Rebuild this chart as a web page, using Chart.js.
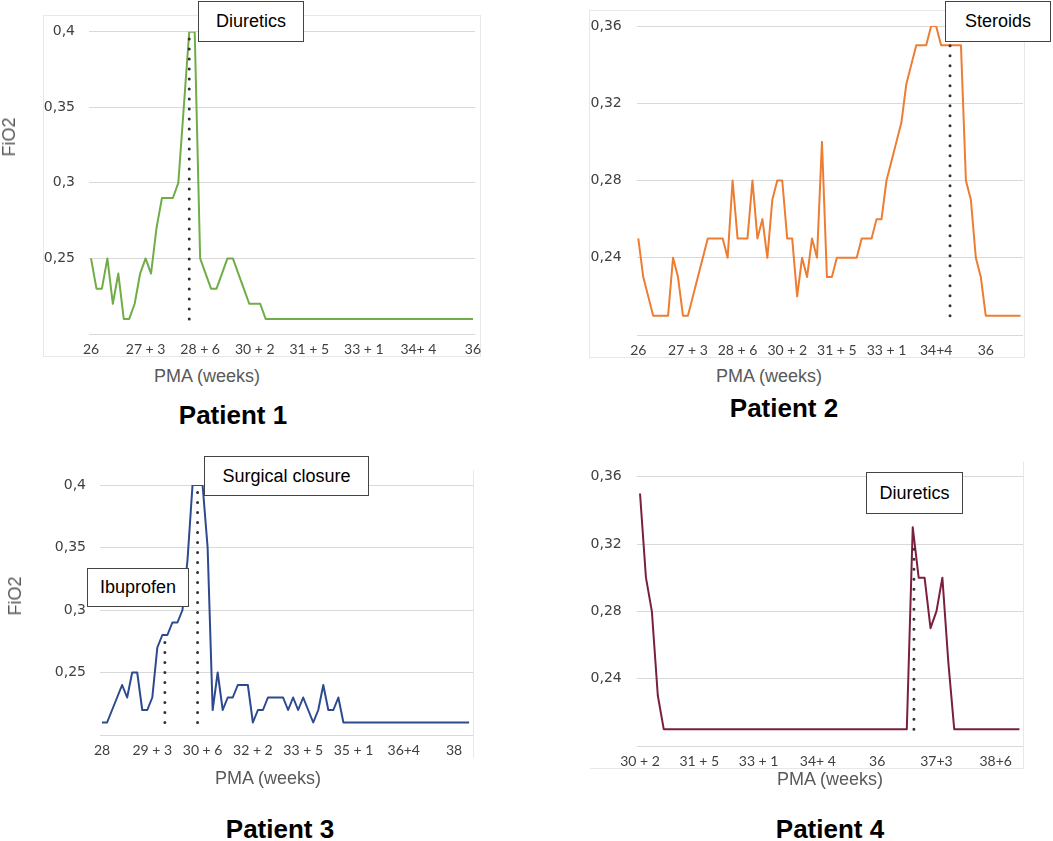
<!DOCTYPE html>
<html>
<head>
<meta charset="utf-8">
<title>FiO2 by PMA - patients 1 to 4</title>
<script src="https://cdn.jsdelivr.net/npm/chart.js@4.4.1/dist/chart.umd.min.js"></script>
<style>
  body { margin: 0; background: #fff; }
  #page { position: relative; width: 1053px; height: 841px; overflow: hidden; font-family: "Liberation Sans", Arial, sans-serif; }
  #page canvas { position: absolute; }
  .frame { position: absolute; border: 1px solid #e8e8e8; box-sizing: border-box; }
  .lbl { position: absolute; transform: translate(-50%, -50%); white-space: nowrap; line-height: 1; }
  .axis { font-size: 18px; color: #595959; }
  .yaxis { transform: translate(-50%, -50%) rotate(-90deg); }
  .title { font-size: 26px; font-weight: bold; color: #000; }
  .note { position: absolute; background: #fff; border: 1.5px solid #444; box-sizing: border-box;
          font-size: 18px; color: #000; display: flex; align-items: center; justify-content: center; }
</style>
</head>
<body>
<div id="page">
  <!-- faint chart-area borders -->
  <div class="frame" style="left:43px;top:15px;width:438px;height:342px"></div>
  <div class="frame" style="left:589px;top:10px;width:436px;height:348px"></div>
  <div class="frame" style="left:100px;top:470px;width:374px;height:288px;border-left:none;border-top:none;border-bottom:none"></div>
  <div class="frame" style="left:590px;top:462px;width:434px;height:307px;border-left:none;border-top:none"></div>

  <canvas id="p1"></canvas>
  <canvas id="p2"></canvas>
  <canvas id="p3"></canvas>
  <canvas id="p4"></canvas>

  <div class="lbl axis yaxis" style="left:9px;top:137px">FiO2</div>
  <div class="lbl axis yaxis" style="left:15px;top:596px">FiO2</div>
  <div class="lbl axis" style="left:207px;top:376px">PMA (weeks)</div>
  <div class="lbl axis" style="left:769px;top:376px">PMA (weeks)</div>
  <div class="lbl axis" style="left:268px;top:778px">PMA (weeks)</div>
  <div class="lbl axis" style="left:830px;top:779px">PMA (weeks)</div>

  <div class="lbl title" style="left:233px;top:415px">Patient 1</div>
  <div class="lbl title" style="left:784px;top:408px">Patient 2</div>
  <div class="lbl title" style="left:280px;top:829px">Patient 3</div>
  <div class="lbl title" style="left:830px;top:829px">Patient 4</div>

  <div class="note" style="left:198px;top:1px;width:106px;height:41px">Diuretics</div>
  <div class="note" style="left:945px;top:1px;width:106px;height:41px">Steroids</div>
  <div class="note" style="left:87px;top:568px;width:102px;height:39px">Ibuprofen</div>
  <div class="note" style="left:204px;top:456px;width:165px;height:40px">Surgical closure</div>
  <div class="note" style="left:866px;top:472px;width:97px;height:42px">Diuretics</div>
</div>

<script>
// x tick labels, one every 10 days (PMA weeks + days)
var p1Ticks = ['26', '27 + 3', '28 + 6', '30 + 2', '31 + 5', '33 + 1', '34+ 4', '36'];
var p2Ticks = ['26', '27 + 3', '28 + 6', '30 + 2', '31 + 5', '33 + 1', '34+4', '36'];
var p3Ticks = ['28', '29 + 3', '30 + 6', '32 + 2', '33 + 5', '35 + 1', '36+4', '38'];
var p4Ticks = ['30 + 2', '31 + 5', '33 + 1', '34+ 4', '36', '37+3', '38+6'];

// daily FiO2, first value = first tick label
var p1FiO2 = [
  0.25, 0.23, 0.23, 0.25, 0.22, 0.24, 0.21, 0.21, 0.22, 0.24,
  0.25, 0.24, 0.27, 0.29, 0.29, 0.29, 0.30, 0.35, 0.40, 0.40,
  0.25, 0.24, 0.23, 0.23, 0.24, 0.25, 0.25, 0.24, 0.23, 0.22,
  0.22, 0.22, 0.21, 0.21, 0.21, 0.21, 0.21, 0.21, 0.21, 0.21,
  0.21, 0.21, 0.21, 0.21, 0.21, 0.21, 0.21, 0.21, 0.21, 0.21,
  0.21, 0.21, 0.21, 0.21, 0.21, 0.21, 0.21, 0.21, 0.21, 0.21,
  0.21, 0.21, 0.21, 0.21, 0.21, 0.21, 0.21, 0.21, 0.21, 0.21,
  0.21
];
var p2FiO2 = [
  0.25, 0.23, 0.22, 0.21, 0.21, 0.21, 0.21, 0.24, 0.23, 0.21,
  0.21, 0.22, 0.23, 0.24, 0.25, 0.25, 0.25, 0.25, 0.24, 0.28,
  0.25, 0.25, 0.25, 0.28, 0.25, 0.26, 0.24, 0.27, 0.28, 0.28,
  0.25, 0.25, 0.22, 0.24, 0.23, 0.25, 0.24, 0.30, 0.23, 0.23,
  0.24, 0.24, 0.24, 0.24, 0.24, 0.25, 0.25, 0.25, 0.26, 0.26,
  0.28, 0.29, 0.30, 0.31, 0.33, 0.34, 0.35, 0.35, 0.35, 0.36,
  0.36, 0.35, 0.35, 0.35, 0.35, 0.35, 0.28, 0.27, 0.24, 0.23,
  0.21, 0.21, 0.21, 0.21, 0.21, 0.21, 0.21, 0.21
];
var p3FiO2 = [
  0.21, 0.21, 0.22, 0.23, 0.24, 0.23, 0.25, 0.25, 0.22, 0.22,
  0.23, 0.27, 0.28, 0.28, 0.29, 0.29, 0.30, 0.34, 0.40, 0.40,
  0.40, 0.35, 0.22, 0.25, 0.22, 0.23, 0.23, 0.24, 0.24, 0.24,
  0.21, 0.22, 0.22, 0.23, 0.23, 0.23, 0.23, 0.22, 0.23, 0.22,
  0.23, 0.22, 0.21, 0.22, 0.24, 0.22, 0.22, 0.23, 0.21, 0.21,
  0.21, 0.21, 0.21, 0.21, 0.21, 0.21, 0.21, 0.21, 0.21, 0.21,
  0.21, 0.21, 0.21, 0.21, 0.21, 0.21, 0.21, 0.21, 0.21, 0.21,
  0.21, 0.21, 0.21, 0.21
];
var p4FiO2 = [
  0.35, 0.30, 0.28, 0.23, 0.21, 0.21, 0.21, 0.21, 0.21, 0.21,
  0.21, 0.21, 0.21, 0.21, 0.21, 0.21, 0.21, 0.21, 0.21, 0.21,
  0.21, 0.21, 0.21, 0.21, 0.21, 0.21, 0.21, 0.21, 0.21, 0.21,
  0.21, 0.21, 0.21, 0.21, 0.21, 0.21, 0.21, 0.21, 0.21, 0.21,
  0.21, 0.21, 0.21, 0.21, 0.21, 0.21, 0.33, 0.30, 0.30, 0.27,
  0.28, 0.30, 0.25, 0.21, 0.21, 0.21, 0.21, 0.21, 0.21, 0.21,
  0.21, 0.21, 0.21, 0.21, 0.21
];

// treatment start markers (dotted lines): day index, FiO2 from / to
var p1Marks = [{ day: 18, from: 0.21, to: 0.40 }];
var p2Marks = [{ day: 62.8, from: 0.21, to: 0.35 }];
var p3Marks = [{ day: 12.5, from: 0.21, to: 0.275 }, { day: 19, from: 0.21, to: 0.40 }];
var p4Marks = [{ day: 46.2, from: 0.21, to: 0.32 }];

Chart.defaults.font.family = 'Lato, sans-serif';

function yLabel(v) {
  if (Math.abs(v - 0.2) < 1e-6) return '';
  return String(+v.toFixed(2)).replace('.', ',');
}

// box = canvas placement on the page, area = wanted plot area (page coords)
function drawPatient(id, box, area, xRange, yMax, yStep, ticks, values, color, marks) {
  var canvas = document.getElementById(id);
  canvas.width = box.w;
  canvas.height = box.h;
  canvas.style.left = box.x + 'px';
  canvas.style.top = box.y + 'px';
  canvas.style.width = box.w + 'px';
  canvas.style.height = box.h + 'px';

  var datasets = marks.map(function (m) {
    return {
      data: [{ x: m.day, y: m.from }, { x: m.day, y: m.to }],
      borderColor: '#333',
      borderWidth: 3,
      borderDash: [0, 10],
      borderCapStyle: 'round',
      pointRadius: 0
    };
  });
  datasets.push({
    data: values.map(function (v, i) { return { x: i, y: v }; }),
    borderColor: color,
    borderWidth: 2,
    borderJoinStyle: 'round',
    pointRadius: 0
  });

  new Chart(canvas, {
    type: 'line',
    data: { datasets: datasets },
    options: {
      responsive: false,
      animation: false,
      events: [],
      layout: { padding: { left: 0, top: area.t - box.y, right: box.x + box.w - area.r, bottom: 0 } },
      plugins: { legend: { display: false }, tooltip: { enabled: false } },
      scales: {
        x: {
          type: 'linear',
          min: xRange[0],
          max: xRange[1],
          afterBuildTicks: function (s) { s.ticks = ticks.map(function (t, i) { return { value: i * 10 }; }); },
          afterFit: function (s) { s.height = box.y + box.h - area.b; },
          grid: { display: false, drawTicks: false },
          border: { display: false },
          ticks: {
            autoSkip: false, maxRotation: 0, padding: 7, color: '#404040', font: { size: 14 },
            callback: function (v) { return ticks[Math.round(v / 10)]; }
          }
        },
        y: {
          min: 0.2,
          max: yMax,
          afterFit: function (s) { s.width = area.l - box.x; },
          grid: { color: '#d9d9d9', drawTicks: false },
          border: { display: false },
          ticks: {
            stepSize: yStep, padding: area.pad, color: '#404040',
            font: { family: '"DejaVu Sans", sans-serif', size: 14 }, callback: yLabel
          }
        }
      }
    }
  });
}

drawPatient('p1', { x: 0, y: 0, w: 500, h: 365 }, { l: 89, r: 475, t: 31.7, b: 334, pad: 14 },
  [-0.37, 70.37], 0.4, 0.05, p1Ticks, p1FiO2, '#70AD47', p1Marks);
drawPatient('p2', { x: 540, y: 0, w: 513, h: 365 }, { l: 636.7, r: 1023, t: 26, b: 335, pad: 15 },
  [-0.32, 77.5], 0.36, 0.04, p2Ticks, p2FiO2, '#ED7D31', p2Marks);
drawPatient('p3', { x: 0, y: 440, w: 500, h: 330 }, { l: 100, r: 473, t: 485, b: 735, pad: 14 },
  [-0.4, 73.77], 0.4, 0.05, p3Ticks, p3FiO2, '#2E4A8E', p3Marks);
drawPatient('p4', { x: 540, y: 440, w: 513, h: 336 }, { l: 636.7, r: 1023, t: 476.7, b: 746, pad: 15 },
  [-0.56, 64.6], 0.36, 0.04, p4Ticks, p4FiO2, '#7B1F3F', p4Marks);
</script>
</body>
</html>
